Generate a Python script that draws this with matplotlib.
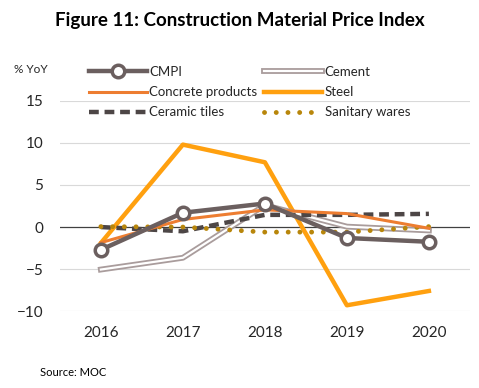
import numpy as np
import matplotlib.pyplot as plt
import matplotlib.patheffects as pe

years = ['2016', '2017', '2018', '2019', '2020']
cmpi = [-2.7, 1.7, 2.8, -1.3, -1.75]
cement = [-5.05, -3.65, 2.6, 0.05, -0.4]
concrete = [-1.85, 0.9, 2.05, 1.6, -0.15]
steel = [-1.9, 9.8, 7.7, -9.3, -7.6]
ceramic = [0.0, -0.5, 1.45, 1.45, 1.57]
sanitary = [0.05, 0.0, -0.6, -0.6, 0.05]

plt.rcParams['font.family'] = ['Lato', 'DejaVu Sans']

fig = plt.figure(figsize=(4.79, 3.88), dpi=100)
ax = fig.add_axes([0.125, 0.198, 0.856, 0.542])
x = np.arange(len(years))

l_cmpi, = ax.plot(x, cmpi, color='#6b5f5f', lw=3.2, marker='o', markersize=9,
                  markerfacecolor='white', markeredgewidth=2.5, zorder=6, label='CMPI')
l_cem, = ax.plot(x, cement, color='white', lw=1.6, zorder=4, label='Cement',
                 path_effects=[pe.Stroke(linewidth=4.2, foreground='#a99c9c'), pe.Normal()])
l_con, = ax.plot(x, concrete, color='#ed7d31', lw=2.2, zorder=5, label='Concrete products')
l_steel, = ax.plot(x, steel, color='#ffa00f', lw=3.2, zorder=3, label='Steel')
l_cer, = ax.plot(x, ceramic, color='#4d4646', lw=3.2, ls=(0, (2.2, 1.3)), zorder=4, label='Ceramic tiles')
l_san, = ax.plot(x, sanitary, color='#b8860b', lw=3.5, ls=(0, (0.01, 2.4)),
                 dash_capstyle='round', zorder=4, label='Sanitary wares')

ax.set_xlim(-0.5, 4.5)
ax.set_ylim(-10, 15)
ax.set_yticks([-10, -5, 0, 5, 10, 15])
ax.set_xticks(x)
ax.set_xticklabels(years)
for yv in [-10, -5, 5, 10, 15]:
    ax.axhline(yv, color='#d9d9d9', lw=0.8, zorder=0)
ax.axhline(0, color='#404040', lw=0.9, zorder=1)
for s in ax.spines.values():
    s.set_visible(False)
ax.tick_params(length=0, labelsize=11, colors='#262626')
ax.tick_params(axis='x', pad=11)
ax.tick_params(axis='y', pad=12)

fig.legend([l_cmpi, l_con, l_cer, l_cem, l_steel, l_san],
           ['CMPI', 'Concrete products', 'Ceramic tiles', 'Cement', 'Steel', 'Sanitary wares'],
           ncol=2, loc='upper left', bbox_to_anchor=(0.185, 0.83), frameon=False,
           fontsize=9.5, handlelength=4.4, handletextpad=0.2, columnspacing=0.5,
           labelspacing=0.62, borderpad=0, borderaxespad=0, labelcolor='#262626')

fig.text(0.5, 0.948, 'Figure 11: Construction Material Price Index', ha='center', va='center',
         fontsize=13.5, fontweight='bold', color='black')
fig.text(0.03, 0.82, '% YoY', ha='left', va='center', fontsize=8.5, color='#262626')
fig.text(0.083, 0.04, 'Source: MOC', ha='left', va='center', fontsize=8, color='black')

fig.savefig('out.png', dpi=100)
